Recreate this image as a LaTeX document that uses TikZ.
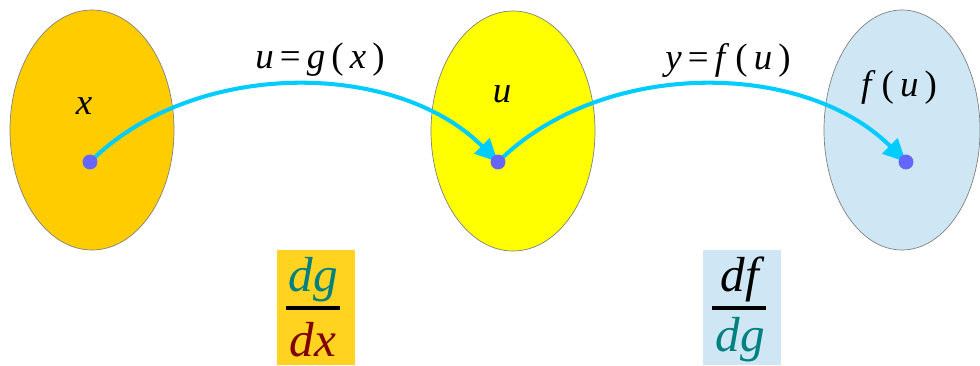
\documentclass[tikz,border=0pt]{standalone}
\usepackage{fontspec}
\setmainfont{Liberation Serif}
\usetikzlibrary{shapes.geometric,arrows.meta}
\definecolor{setorange}{RGB}{255,204,0}
\definecolor{setyellow}{RGB}{255,255,0}
\definecolor{setblue}{RGB}{207,231,245}
\definecolor{boxorange}{RGB}{255,211,32}
\definecolor{flowcyan}{RGB}{0,204,255}
\definecolor{dotblue}{RGB}{102,102,255}
\definecolor{numteal}{RGB}{0,128,128}
\definecolor{denmaroon}{RGB}{128,0,0}
\tikzset{
  setell/.style={ellipse,draw=black!50,line width=0.4pt,inner sep=0pt,
    minimum width=#1*0.02cm,minimum height=240*0.02cm},
  flow/.style={flowcyan,line width=2.3pt,-{Triangle[length=13pt,width=12pt]}},
  pt/.style={circle,fill=dotblue,inner sep=0pt,minimum size=8.5pt},
  lab/.style={font=\fontsize{21}{24}\selectfont,inner sep=0pt},
  fracpart/.style={font=\fontsize{28}{30}\selectfont\itshape,inner sep=0pt},
  fracbar/.style={line width=1.8pt}
}
\begin{document}
\begin{tikzpicture}[x=0.02cm,y=-0.02cm]
  \useasboundingbox (0,0) rectangle (980,365);
  % --- the three sets ---
  \node[setell=164,fill=setorange] (setx) at (92,130) {};
  \node[setell=164,fill=setyellow] (setu) at (513,131) {};
  \node[setell=156,fill=setblue]   (setf) at (902,130) {};
  % --- set labels ---
  \node[lab] (labx) at (84,106) {\textit{x}};
  \node[lab] (labu) at (502,94) {\textit{u}};
  \node[lab] (labf) at (899,87) {\textit{f}\,(\,\textit{u}\,)};
  % --- mapping labels ---
  \node[lab] (labg) at (320,60) {\textit{u}\,=\,\textit{g}\,(\,\textit{x}\,)};
  \node[lab] (laby) at (728,60) {\textit{y}\,=\,\textit{f}\,(\,\textit{u}\,)};
  % --- points and maps ---
  \coordinate (cx) at (90,162);
  \coordinate (cu) at (498,162);
  \coordinate (cf) at (906,162);
  \draw[flow] (cx) .. controls (193,59) and (395,59) .. (cu);
  \draw[flow] (cu) .. controls (601,59) and (803,59) .. (cf);
  \foreach \p in {cx,cu,cf}{%
    \node[pt] (dot-\p) at (\p) {};}
  % --- derivatives ---
  \fill[boxorange] (277,250) rectangle (355,365);
  \fill[setblue] (703,250) rectangle (781,365);
  \node[fracpart,text=numteal]   (gnum) at (313,280) {dg};
  \draw[fracbar] (286,308) -- (340,308);
  \node[fracpart,text=denmaroon] (gden) at (313,340) {dx};
  \node[fracpart]                (fnum) at (740,279) {df};
  \draw[fracbar] (712,308) -- (766,308);
  \node[fracpart,text=numteal]   (fden) at (740,340) {dg};
\end{tikzpicture}
\end{document}
